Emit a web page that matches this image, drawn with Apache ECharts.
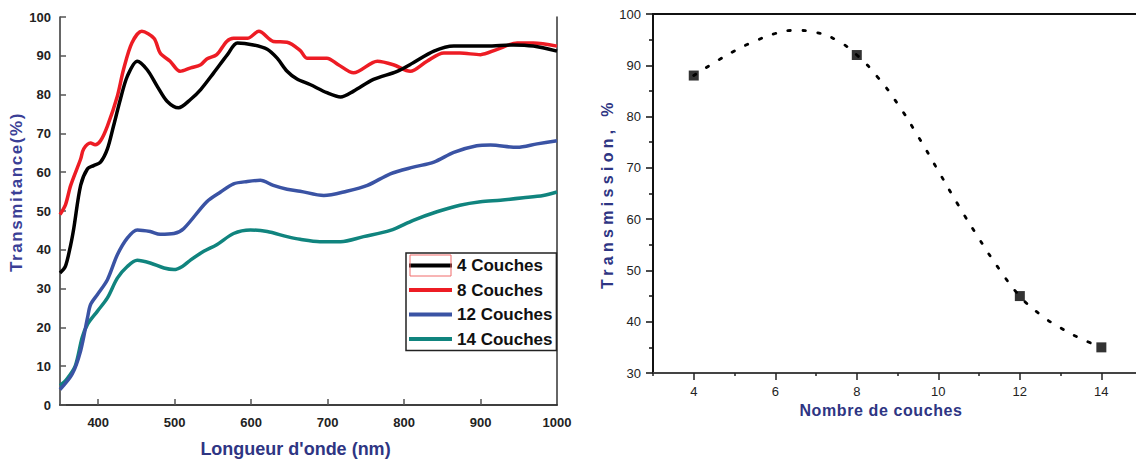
<!DOCTYPE html>
<html><head><meta charset="utf-8">
<script src="https://cdn.jsdelivr.net/npm/echarts@6/dist/echarts.min.js"></script>
<style>html,body{margin:0;padding:0;background:#fff}#c{width:1136px;height:463px}</style>
</head><body><div id="c"></div>
<script>
// ---- Left chart: transmittance spectra ----
const seriesNames = ['4 Couches', '8 Couches', '12 Couches', '14 Couches'];
const wl4 = [350,357,364,368,377,386,394,403,412,420,429,438,451,464,477,490,505,521,534,551,569,582,603,621,634,647,660,677,699,717,734,760,791,812,839,865,908,943,969,1000];
const t4  = [34.0,35.7,41.3,45.5,56.6,60.9,61.7,62.6,66.0,71.9,78.8,84.7,88.6,86.4,82.2,78.3,76.6,78.8,81.3,85.6,90.3,93.3,92.8,91.7,89.4,86.0,84.0,82.6,80.5,79.4,80.9,83.9,86.0,88.2,91.2,92.5,92.5,92.8,92.5,91.2];
const wl8 = [350,357,364,377,381,390,396,403,412,425,433,444,457,473,481,494,507,521,534,542,555,568,577,595,610,629,647,664,673,699,714,734,765,786,808,830,852,873,900,921,948,969,1000];
const t8  = [49.1,51.5,56.6,63.4,66.0,67.5,67.1,68.1,71.9,79.6,86.4,93.3,96.3,94.5,90.7,88.6,86.0,86.9,87.7,89.2,90.3,93.7,94.5,94.5,96.3,93.7,93.5,91.4,89.4,89.4,87.7,85.6,88.6,87.7,86.0,88.6,90.7,90.7,90.3,91.6,93.3,93.3,92.5];
const wl12 = [350,366,377,386,390,399,412,425,438,451,468,481,499,512,542,560,577,595,612,629,647,664,695,725,752,782,812,839,865,895,913,948,974,1000];
const t12  = [4.0,8.0,14.0,22.5,25.9,28.5,32.3,38.7,43.0,45.1,44.7,44.0,44.2,45.5,52.4,54.9,57.0,57.6,57.9,56.6,55.6,55.1,54.0,55.1,56.6,59.6,61.3,62.6,65.1,66.8,67.0,66.4,67.3,68.1];
const wl14 = [350,359,370,379,386,399,412,425,438,451,468,486,499,510,521,538,555,577,599,621,647,664,690,717,747,782,812,843,873,900,926,956,982,1000];
const t14  = [5.0,6.7,10.1,17.4,20.8,24.2,27.6,32.7,35.7,37.3,36.6,35.3,34.9,35.7,37.4,39.6,41.3,44.2,45.1,44.7,43.4,42.7,42.1,42.1,43.4,45.0,47.6,49.8,51.5,52.4,52.8,53.4,54.0,54.9];
const leftXTicks = [400,500,600,700,800,900];
const leftXLabels = [400,500,600,700,800,900,1000];

// ---- Right chart: transmission vs number of layers ----
const layers = [4, 8, 12, 14];
const transmission = [88, 92, 45, 35];
const fitX = [4,4.5,5,5.5,6,6.5,7,7.5,8,8.5,9,9.5,10,10.5,11,11.5,12,12.5,13,13.5,14];
const fitY = [88,90.5,92.8,94.7,96.2,96.8,96.4,94.9,92,87.8,82.5,76.2,69.4,62.6,56.2,50.2,45,41.4,38.8,36.7,35];
const rightXMajor = [4,6,8,10,12,14];
const rightXMinor = [3,5,7,9,11,13];

const pair = (xs, ys) => xs.map((x, i) => [x, ys[i]]);
const FONT = 'Liberation Sans, Arial, sans-serif';
const colors = ['#000000', '#ed1c24', '#3a53a4', '#10847e'];
const leftData = [pair(wl4, t4), pair(wl8, t8), pair(wl12, t12), pair(wl14, t14)];
const plain = v => String(v);

const chart = echarts.init(document.getElementById('c'), null, {renderer: 'svg'});
const border = (gi, pos, color, w) => ({
  gridIndex: gi, type: 'value', position: pos,
  axisLine: {show: true, lineStyle: {color: color, width: w}},
  axisTick: {show: false}, axisLabel: {show: false}, splitLine: {show: false}
});

const option = {
  animation: false,
  backgroundColor: '#ffffff',
  grid: [
    {left: 60, top: 17, right: 579, bottom: 55},
    {left: 653, top: 14, right: 0, bottom: 90}
  ],
  legend: {
    data: seriesNames,
    orient: 'vertical', left: 406, top: 253,
    icon: 'rect', itemWidth: 43, itemHeight: 4, itemGap: 7.5, itemTextGap: 4,
    padding: [4, 4, 3, 3],
    borderColor: '#222', borderWidth: 1.5,
    textStyle: {fontFamily: FONT, fontSize: 17, fontWeight: 'bold', color: '#111'}
  },
  xAxis: [
    Object.assign(border(0, 'bottom', '#333', 1.5), {
      min: 350, max: 1000,
      axisTick: {show: true, inside: true, length: 6, customValues: leftXTicks, lineStyle: {color: '#555', width: 1.5}},
      axisLabel: {show: true, customValues: leftXLabels, formatter: plain, margin: 11, fontFamily: FONT, fontSize: 13, fontWeight: 'bold', color: '#222'},
      name: "Longueur d'onde (nm)", nameLocation: 'middle', nameGap: 35,
      nameTextStyle: {fontFamily: FONT, fontSize: 18, fontWeight: 'bold', color: '#2e3583', padding: [0, 26, 0, 0]}
    }),
    Object.assign(border(0, 'top', '#333', 1.5), {min: 350, max: 1000}),
    Object.assign(border(1, 'bottom', '#444', 2), {
      min: 3, max: 14.85,
      axisTick: {show: true, length: 7, customValues: rightXMajor, lineStyle: {color: '#222', width: 1.5}},
      axisLabel: {show: true, customValues: rightXMajor, formatter: plain, margin: 12, fontFamily: FONT, fontSize: 13, color: '#222'},
      name: 'Nombre de couches', nameLocation: 'middle', nameGap: 27,
      nameTextStyle: {fontFamily: FONT, fontSize: 16, fontWeight: 'bold', color: '#2e3583', padding: [0, 27, 0, 0]}
    }),
    Object.assign(border(1, 'bottom', '#444', 0), {
      min: 3, max: 14.85, axisLine: {show: false},
      axisTick: {show: true, length: 3, customValues: rightXMinor, lineStyle: {color: '#222', width: 1.5}}
    }),
    Object.assign(border(1, 'top', '#111', 2), {min: 3, max: 14.85})
  ],
  yAxis: [
    Object.assign(border(0, 'left', '#333', 1.5), {
      min: 0, max: 100, interval: 10,
      axisTick: {show: true, inside: true, length: 6, lineStyle: {color: '#555', width: 1.5}},
      axisLabel: {show: true, margin: 9, fontFamily: FONT, fontSize: 13, fontWeight: 'bold', color: '#222'},
      name: 'Transmitance(%)', nameLocation: 'middle', nameGap: 31,
      nameTextStyle: {fontFamily: FONT, fontSize: 17, fontWeight: 'bold', color: '#3b3f96', padding: [0, 0, 0, 38]}
    }),
    Object.assign(border(0, 'right', '#333', 1.5), {min: 0, max: 100}),
    Object.assign(border(1, 'left', '#111', 2), {
      min: 30, max: 100, interval: 10,
      axisTick: {show: true, length: 7, lineStyle: {color: '#111', width: 1.5}},
      minorTick: {show: true, splitNumber: 2, length: 4, lineStyle: {color: '#111', width: 1.5}},
      axisLabel: {show: true, margin: 12, fontFamily: FONT, fontSize: 13, color: '#222'},
      name: 'Transmission, %', nameLocation: 'middle', nameGap: 35,
      nameTextStyle: {fontFamily: FONT, fontSize: 16, fontWeight: 'bold', color: '#2e3583'}
    })
  ],
  series: [
    ...seriesNames.map((n, i) => ({
      name: n, type: 'line', xAxisIndex: 0, yAxisIndex: 0,
      data: leftData[i], smooth: 0.3, showSymbol: false, symbol: 'none',
      lineStyle: {color: colors[i], width: 3.5}, itemStyle: {color: colors[i]},
      z: 10 - i
    })),
    {
      name: 'Ajustement', type: 'line', xAxisIndex: 2, yAxisIndex: 2,
      data: pair(fitX, fitY), smooth: true, showSymbol: false, symbol: 'none',
      lineStyle: {color: '#000', width: 2.8, type: [2.5, 12.5], cap: 'round'}
    },
    {
      name: 'Transmission', type: 'scatter', xAxisIndex: 2, yAxisIndex: 2,
      data: pair(layers, transmission), symbol: 'rect', symbolSize: 10,
      itemStyle: {color: '#000'}, z: 5
    }
  ],
  graphic: [
    {type: 'rect', shape: {x: 410, y: 255, width: 41, height: 21},
     style: {fill: 'none', stroke: '#f06a6a', lineWidth: 1}, z: 100}
  ]
};
chart.setOption(option);

// letter spacing for the spaced axis titles
function spaceTitles() {
  document.querySelectorAll('#c svg text').forEach(t => {
    if (t.textContent === 'Transmission, %') t.setAttribute('letter-spacing', '4.3');
    if (t.textContent === 'Nombre de couches') t.setAttribute('letter-spacing', '0.6');
    if (t.textContent === 'Transmitance(%)') t.setAttribute('letter-spacing', '1.6');
  });
}
chart.on('finished', spaceTitles);
spaceTitles();
</script>
</body></html>
